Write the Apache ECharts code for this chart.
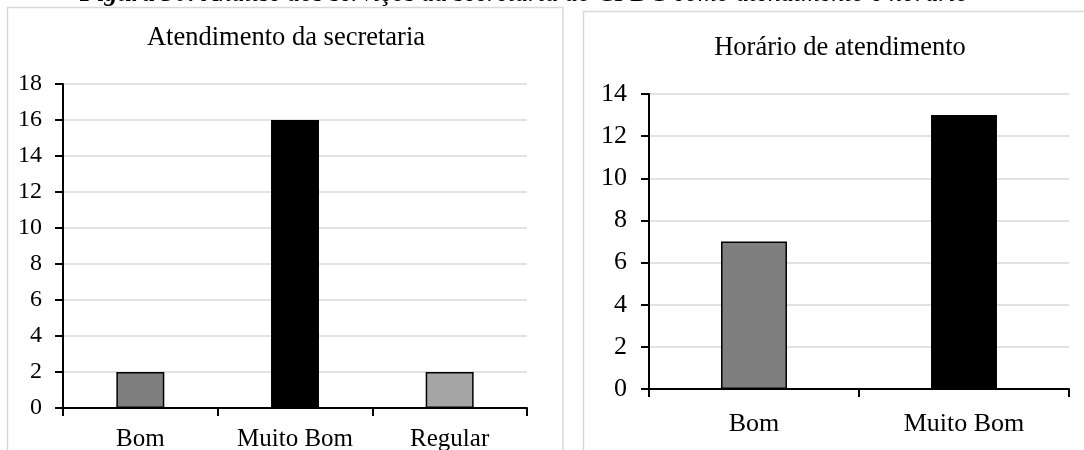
<!DOCTYPE html>
<html>
<head>
<meta charset="utf-8">
<script src="https://cdn.jsdelivr.net/npm/echarts@6/dist/echarts.min.js"></script>
<style>
  html, body { margin: 0; padding: 0; background: #ffffff; }
  #chart { width: 1084px; height: 450px; }
</style>
</head>
<body>
<div id="chart"></div>
<script>
// Survey answers about the secretariat service
const captionBold = 'Figura 30:';
const captionText = ' Análise dos serviços da secretaria do CPDC como atendimento e horário';

const titleSecretaria = 'Atendimento da secretaria';
const catsSecretaria = ['Bom', 'Muito Bom', 'Regular'];
const valsSecretaria = [2, 16, 2];

const titleHorario = 'Horário de atendimento';
const catsHorario = ['Bom', 'Muito Bom'];
const valsHorario = [7, 13];

// Fill colour for each answer
const answerColors = { 'Bom': '#7f7f7f', 'Muito Bom': '#000000', 'Regular': '#a6a6a6' };

const serif = '"Liberation Serif", "Times New Roman", serif';
const gridLine = '#d9d9d9';

function barData(cats, vals) {
  return vals.map((v, i) => ({
    value: v,
    itemStyle: { color: answerColors[cats[i]], borderColor: '#000', borderWidth: 1.5 }
  }));
}

function categoryAxis(gridIndex, cats, fontSize, margin) {
  return {
    type: 'category', gridIndex: gridIndex, data: cats,
    axisLine: { lineStyle: { color: '#000', width: 2 } },
    axisTick: { show: true, length: 8, lineStyle: { color: '#000', width: 2 } },
    axisLabel: { color: '#000', fontFamily: serif, fontSize: fontSize, margin: margin },
    splitLine: { show: false }
  };
}

function valueAxis(gridIndex, max, fontSize, margin) {
  return {
    type: 'value', gridIndex: gridIndex, min: 0, max: max, interval: 2,
    axisLine: { show: true, lineStyle: { color: '#000', width: 2 } },
    axisTick: { show: true, length: 8, lineStyle: { color: '#000', width: 2 } },
    axisLabel: { color: '#000', fontFamily: serif, fontSize: fontSize, margin: margin },
    splitLine: { show: true, lineStyle: { color: gridLine, width: 1.5 } }
  };
}

const chart = echarts.init(document.getElementById('chart'), null, { renderer: 'canvas' });

chart.setOption({
  backgroundColor: '#ffffff',
  animation: false,
  grid: [
    { left: 63, top: 84, width: 464, height: 324, containLabel: false, outerBoundsMode: 'none' },
    { left: 649, top: 94, width: 420, height: 295, containLabel: false, outerBoundsMode: 'none' }
  ],
  xAxis: [
    categoryAxis(0, catsSecretaria, 25, 19),
    categoryAxis(1, catsHorario, 26, 22)
  ],
  yAxis: [
    valueAxis(0, 18, 24, 21),
    valueAxis(1, 14, 26, 22)
  ],
  series: [
    {
      type: 'bar', xAxisIndex: 0, yAxisIndex: 0, barWidth: '31%',
      data: barData(catsSecretaria, valsSecretaria)
    },
    {
      type: 'bar', xAxisIndex: 1, yAxisIndex: 1, barWidth: '31.4%',
      data: barData(catsHorario, valsHorario)
    }
  ],
  graphic: [
    // panel frames
    { type: 'rect', shape: { x: 7.5, y: 7.5, width: 555.5, height: 460 }, z: -1,
      style: { fill: '#ffffff', stroke: gridLine, lineWidth: 1.5 } },
    { type: 'rect', shape: { x: 583.5, y: 11.5, width: 540, height: 460 }, z: -1,
      style: { fill: '#ffffff', stroke: gridLine, lineWidth: 1.5 } },
    // caption line running above the panels
    { type: 'text', x: 80, y: 7, z: 5,
      style: {
        text: '{b|' + captionBold + '}{i|' + captionText + '}',
        textAlign: 'left', textVerticalAlign: 'bottom',
        rich: {
          b: { font: 'bold italic 26px ' + serif, fill: '#000' },
          i: { font: 'italic 26px ' + serif, fill: '#000' }
        }
      } },
    // chart titles
    { type: 'text', x: 286, y: 38, z: 5,
      style: { text: titleSecretaria, font: '26.5px ' + serif, fill: '#000',
               textAlign: 'center', textVerticalAlign: 'middle' } },
    { type: 'text', x: 840, y: 48, z: 5,
      style: { text: titleHorario, font: '26.5px ' + serif, fill: '#000',
               textAlign: 'center', textVerticalAlign: 'middle' } }
  ]
});
</script>
</body>
</html>
